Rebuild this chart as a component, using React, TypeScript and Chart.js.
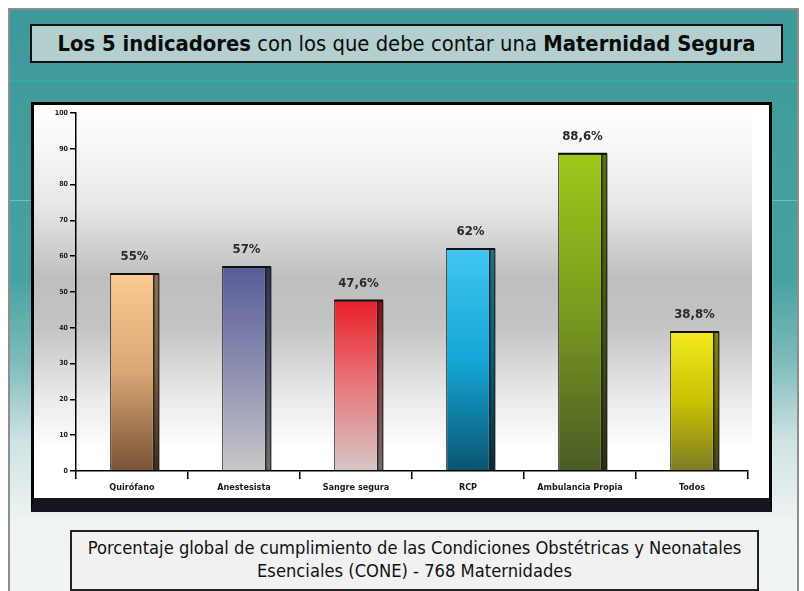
import React, { useEffect, useRef } from "react";
import { Chart, registerables } from "chart.js";

Chart.register(...registerables);

// ---- data ----
const categories = ["Quirófano", "Anestesista", "Sangre segura", "RCP", "Ambulancia Propia", "Todos"];
const values = [55, 57, 47.6, 62, 88.6, 38.8];
const yMin = 0;
const yMax = 100;
const yStep = 10;

const titleBoldStart = "Los 5 indicadores";
const titleMiddle = " con los que debe contar una ";
const titleBoldEnd = "Maternidad Segura";
const footerLine1 = "Porcentaje global de cumplimiento de las Condiciones Obstétricas y Neonatales";
const footerLine2 = "Esenciales (CONE) - 768 Maternidades";

// ---- styles ----
const FONT = '"DejaVu Sans Condensed", "DejaVu Sans", sans-serif';
const topColors = ["#fdca93", "#575c98", "#e81f28", "#42c6f2", "#a0c81a", "#f4ea1c"];
const midColors = ["#d9a675", "#8c8eb0", "#e8787c", "#14a6d6", "#7a9a1e", "#c9c104"];
const bottomColors = ["#775334", "#c8c8c8", "#d6c6c6", "#0a5570", "#4a5a24", "#7d7b24"];

const fmt = (v: number) => String(v).replace(".", ",") + "%";

function barGradient(ctx: CanvasRenderingContext2D, top: number, base: number, i: number) {
  const g = ctx.createLinearGradient(0, top, 0, base);
  g.addColorStop(0, topColors[i]);
  g.addColorStop(0.5, midColors[i]);
  g.addColorStop(1, bottomColors[i]);
  return g;
}

const bar3d = {
  id: "bar3d",
  afterDatasetsDraw(chart: any) {
    const ctx: CanvasRenderingContext2D = chart.ctx;
    const meta = chart.getDatasetMeta(0);
    meta.data.forEach((bar: any, i: number) => {
      const { x, y, base, width } = bar.getProps(["x", "y", "base", "width"], true);
      const right = x + width / 2;
      const sw = 5;
      ctx.save();
      ctx.fillStyle = barGradient(ctx, y, base, i);
      ctx.fillRect(right, y, sw, base - y);
      ctx.fillStyle = "rgba(0,0,0,0.45)";
      ctx.fillRect(right, y, sw, base - y);
      ctx.strokeStyle = "#111";
      ctx.lineWidth = 1;
      ctx.strokeRect(right, y, sw, base - y);
      ctx.beginPath();
      ctx.moveTo(x - width / 2, y);
      ctx.lineTo(right + sw, y);
      ctx.lineWidth = 2;
      ctx.stroke();
      ctx.font = `bold 13px ${FONT}`;
      ctx.fillStyle = "#2a2a2a";
      ctx.textAlign = "center";
      ctx.textBaseline = "middle";
      ctx.fillText(fmt(values[i]), x + sw / 2, y - 17);
      ctx.restore();
    });
  },
};

function BarChart() {
  const ref = useRef<HTMLCanvasElement>(null);
  useEffect(() => {
    if (!ref.current) return;
    const chart = new Chart(ref.current, {
      type: "bar",
      data: {
        labels: categories,
        datasets: [
          {
            data: values,
            backgroundColor: (c: any) => {
              const ch = c.chart;
              if (!ch.chartArea || c.dataIndex === undefined) return topColors[0];
              const ys = ch.scales.y;
              const top = ys.getPixelForValue(values[c.dataIndex]);
              const base = ys.getPixelForValue(0);
              return barGradient(ch.ctx, top, base, c.dataIndex);
            },
            borderColor: "#1a1a1a",
            borderWidth: 1,
            categoryPercentage: 1,
            barPercentage: 0.39,
          },
        ],
      },
      options: {
        animation: false,
        responsive: false,
        maintainAspectRatio: false,
        layout: { padding: { top: 8, right: 21, left: 0, bottom: 0 } },
        plugins: { legend: { display: false }, tooltip: { enabled: false } },
        scales: {
          x: {
            grid: {
              display: true,
              drawOnChartArea: false,
              drawTicks: true,
              tickLength: 8,
              color: "#000",
              lineWidth: 1.5,
              offset: true,
            },
            border: { display: true, color: "#000", width: 1.5 },
            ticks: {
              color: "#1a1a1a",
              font: { family: FONT, size: 9, weight: "bold" },
              padding: 3,
              maxRotation: 0,
              autoSkip: false,
            },
            afterFit: (s: any) => {
              s.height = 27;
            },
          },
          y: {
            min: yMin,
            max: yMax,
            ticks: {
              stepSize: yStep,
              color: "#1a1a1a",
              font: { family: FONT, size: 7, weight: "bold" },
              padding: 2,
            },
            grid: {
              display: true,
              drawOnChartArea: false,
              drawTicks: true,
              tickLength: 6,
              color: "#000",
              lineWidth: 1.5,
            },
            border: { display: true, color: "#000", width: 1.5 },
            afterFit: (s: any) => {
              s.width = 42;
            },
          },
        },
      },
      plugins: [bar3d],
    } as any);
    return () => chart.destroy();
  }, []);
  return <canvas ref={ref} width={735} height={393} style={{ position: "absolute", left: 0, top: 0, width: 735, height: 393 }} />;
}

export default function App() {
  useEffect(() => {
    document.body.style.margin = "0";
  }, []);
  return (
    <div style={{ position: "fixed", left: 0, top: 0, width: 804, height: 591, background: "#ffffff", overflow: "hidden", fontFamily: FONT }}>
      {/* slide */}
      <div
        style={{
          position: "absolute",
          left: 8,
          top: 8,
          width: 787,
          height: 600,
          borderTop: "2px solid #8e8e8e",
          borderLeft: "2px solid #8e8e8e",
          borderRight: "2px solid #8e8e8e",
          background:
            "linear-gradient(to bottom, #3e9999 0%, #48a2a2 45%, #7cbaba 58%, #cfe3e3 72%, #eef3f3 85%, #f3f5f5 100%)",
        }}
      />
      {/* decorative lines */}
      <div style={{ position: "absolute", left: 10, top: 61, width: 787, height: 1, background: "#5a86b0" }} />
      <div style={{ position: "absolute", left: 10, top: 80, width: 787, height: 2, background: "#33ad9d" }} />
      <div style={{ position: "absolute", left: 10, top: 200, width: 787, height: 1, background: "#6cc0bc" }} />
      {/* title */}
      <div
        style={{
          position: "absolute",
          left: 30,
          top: 24,
          width: 749,
          height: 35,
          border: "2px solid #111",
          background: "#b3d0ce",
          color: "#0c0c0c",
          fontSize: 21.8,
          lineHeight: "35px",
          textAlign: "center",
          whiteSpace: "nowrap",
        }}
      >
        <b>{titleBoldStart}</b>
        {titleMiddle}
        <b>{titleBoldEnd}</b>
      </div>
      {/* chart box */}
      <div
        style={{
          position: "absolute",
          left: 31,
          top: 102,
          width: 735,
          height: 393,
          border: "3px solid #000",
          borderBottom: "14px solid #15151d",
          background: "#ffffff",
        }}
      >
        <div
          style={{
            position: "absolute",
            left: 0,
            top: 0,
            width: 718,
            height: 393,
            background:
              "linear-gradient(to bottom, #ffffff 2%, #e8e8e8 25%, #bfbfbf 44%, #c3c3c3 56%, #ebebeb 75%, #ffffff 88%)",
          }}
        />
        <BarChart />
      </div>
      {/* footer */}
      <div
        style={{
          position: "absolute",
          left: 70,
          top: 530,
          width: 685,
          height: 53,
          border: "2px solid #222",
          background: "#f1f1f1",
          color: "#111",
          fontSize: 18.2,
          lineHeight: "23px",
          paddingTop: 4,
          boxSizing: "content-box",
          textAlign: "center",
          whiteSpace: "nowrap",
        }}
      >
        <div>{footerLine1}</div>
        <div>{footerLine2}</div>
      </div>
    </div>
  );
}
